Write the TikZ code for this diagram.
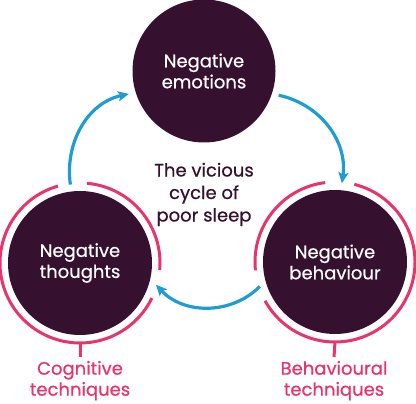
\documentclass[tikz,border=0pt]{standalone}
\usepackage{fontspec}
\setmainfont{Poppins}[FakeBold=0.6]
\usetikzlibrary{arrows.meta}
\definecolor{darkplum}{HTML}{35102F}
\definecolor{pinkred}{HTML}{E8336B}
\definecolor{cyanblue}{HTML}{1E9CD3}
\begin{document}
\begin{tikzpicture}[x=1pt,y=1pt,
  stage/.style={circle, fill=darkplum, text=white, minimum size=#1, inner sep=0pt, outer sep=7pt, align=center, font=\fontsize{18}{21}\selectfont},
  cyclearrow/.style={draw=cyanblue, line width=3.2pt, -{Stealth[length=11pt,width=10pt,inset=2.5pt]}},
  ring/.style={draw=pinkred, line width=3pt},
  techlabel/.style={text=pinkred, align=center, inner sep=0pt, outer sep=0pt, font=\fontsize{18}{21}\selectfont},
  centretext/.style={text=darkplum, align=center, inner sep=0pt, font=\fontsize{18}{22.5}\selectfont}
]
\useasboundingbox (0,0) rectangle (416,404);
\node[stage=143pt] (T) at (204,333) {Negative\\emotions};
\node[stage=144pt] (L) at (80,141) {Negative\\thoughts};
\node[stage=144pt] (R) at (335,142) {Negative\\behaviour};
\node[centretext] (C) at (204,209.5) {The vicious\\cycle of\\poor sleep};
\node[techlabel, anchor=north] (CL) at (80,43) {Cognitive\\techniques};
\node[techlabel, anchor=north] (BL) at (334,43) {Behavioural\\techniques};
% cycle arrows
\draw[cyclearrow] (L.97) to[out=98,in=192] (T.197);
\draw[cyclearrow] (T.342) to[out=-12,in=82] (R.85);
\draw[cyclearrow] (R.198) to[out=225,in=313] (L.-16);
% pink rings
\draw[ring] ([shift={(106:80)}]L.center) arc[start angle=106,end angle=334,radius=80];
\draw[ring] ([shift={(-5:80)}]L.center) arc[start angle=-5,end angle=85,radius=80];
\draw[ring] ([shift={(97:80)}]R.center) arc[start angle=97,end angle=186,radius=80];
\draw[ring] ([shift={(209:80)}]R.center) arc[start angle=209,end angle=436,radius=80];
% ticks to labels
\draw[ring] ([yshift=-80pt]L.center) -- ([yshift=4pt]CL.north);
\draw[ring] ([yshift=-80pt]R.center) -- ([yshift=4pt]BL.north);
\end{tikzpicture}
\end{document}
